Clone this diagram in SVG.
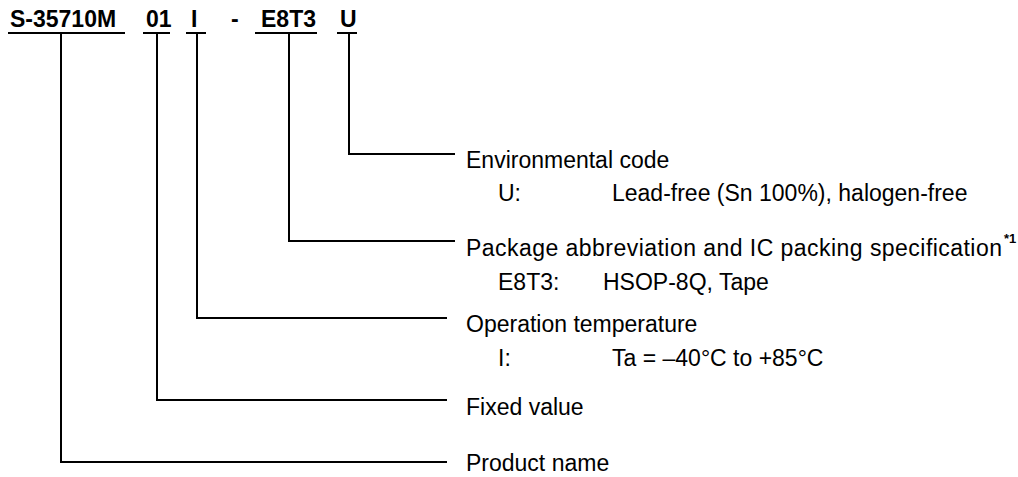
<svg xmlns="http://www.w3.org/2000/svg" width="1018" height="477" viewBox="0 0 1018 477">
<style>
.t{font-family:"Liberation Sans",Arial,sans-serif;font-size:23px;fill:#000}
.b{font-family:"Liberation Sans",Arial,sans-serif;font-size:23px;font-weight:bold;fill:#000}
.sup{font-size:13px;font-weight:bold}
.ln{stroke:#000;stroke-width:2;fill:none}
</style>
<rect width="1018" height="477" fill="#fff"/>
<g id="code">
<text class="b" x="10" y="27">S-35710M</text>
<text class="b" x="146" y="27">01</text>
<text class="b" x="191" y="27">I</text>
<text class="b" x="231" y="27">-</text>
<text class="b" x="261" y="27">E8T3</text>
<text class="b" x="340" y="27">U</text>
</g>
<g id="connectors">
<path class="ln" d="M8 33H125M143 33H170M186 33H206M255 33H317M337 33H357"/>
<path class="ln" d="M349 33V154H455"/>
<path class="ln" d="M289 33V241H455"/>
<path class="ln" d="M197 33V318H447"/>
<path class="ln" d="M157 33V400H447"/>
<path class="ln" d="M61 33V462H447"/>
</g>
<g id="env">
<text class="t" x="466" y="168">Environmental code</text>
<text class="t" x="498" y="201">U:</text>
<text class="t" x="612" y="201">Lead-free (Sn 100%), halogen-free</text>
</g>
<g id="pkg">
<text class="t" x="466" y="256" textLength="536" lengthAdjust="spacing">Package abbreviation and IC packing specification</text>
<text class="t sup" x="1004" y="243">*1</text>
<text class="t" x="498" y="290">E8T3:</text>
<text class="t" x="603" y="290">HSOP-8Q, Tape</text>
</g>
<g id="temp">
<text class="t" x="466" y="332">Operation temperature</text>
<text class="t" x="498" y="366">I:</text>
<text class="t" x="612" y="366">Ta = –40°C to +85°C</text>
</g>
<g id="fixed">
<text class="t" x="466" y="415">Fixed value</text>
</g>
<g id="product">
<text class="t" x="466" y="471">Product name</text>
</g>
</svg>
